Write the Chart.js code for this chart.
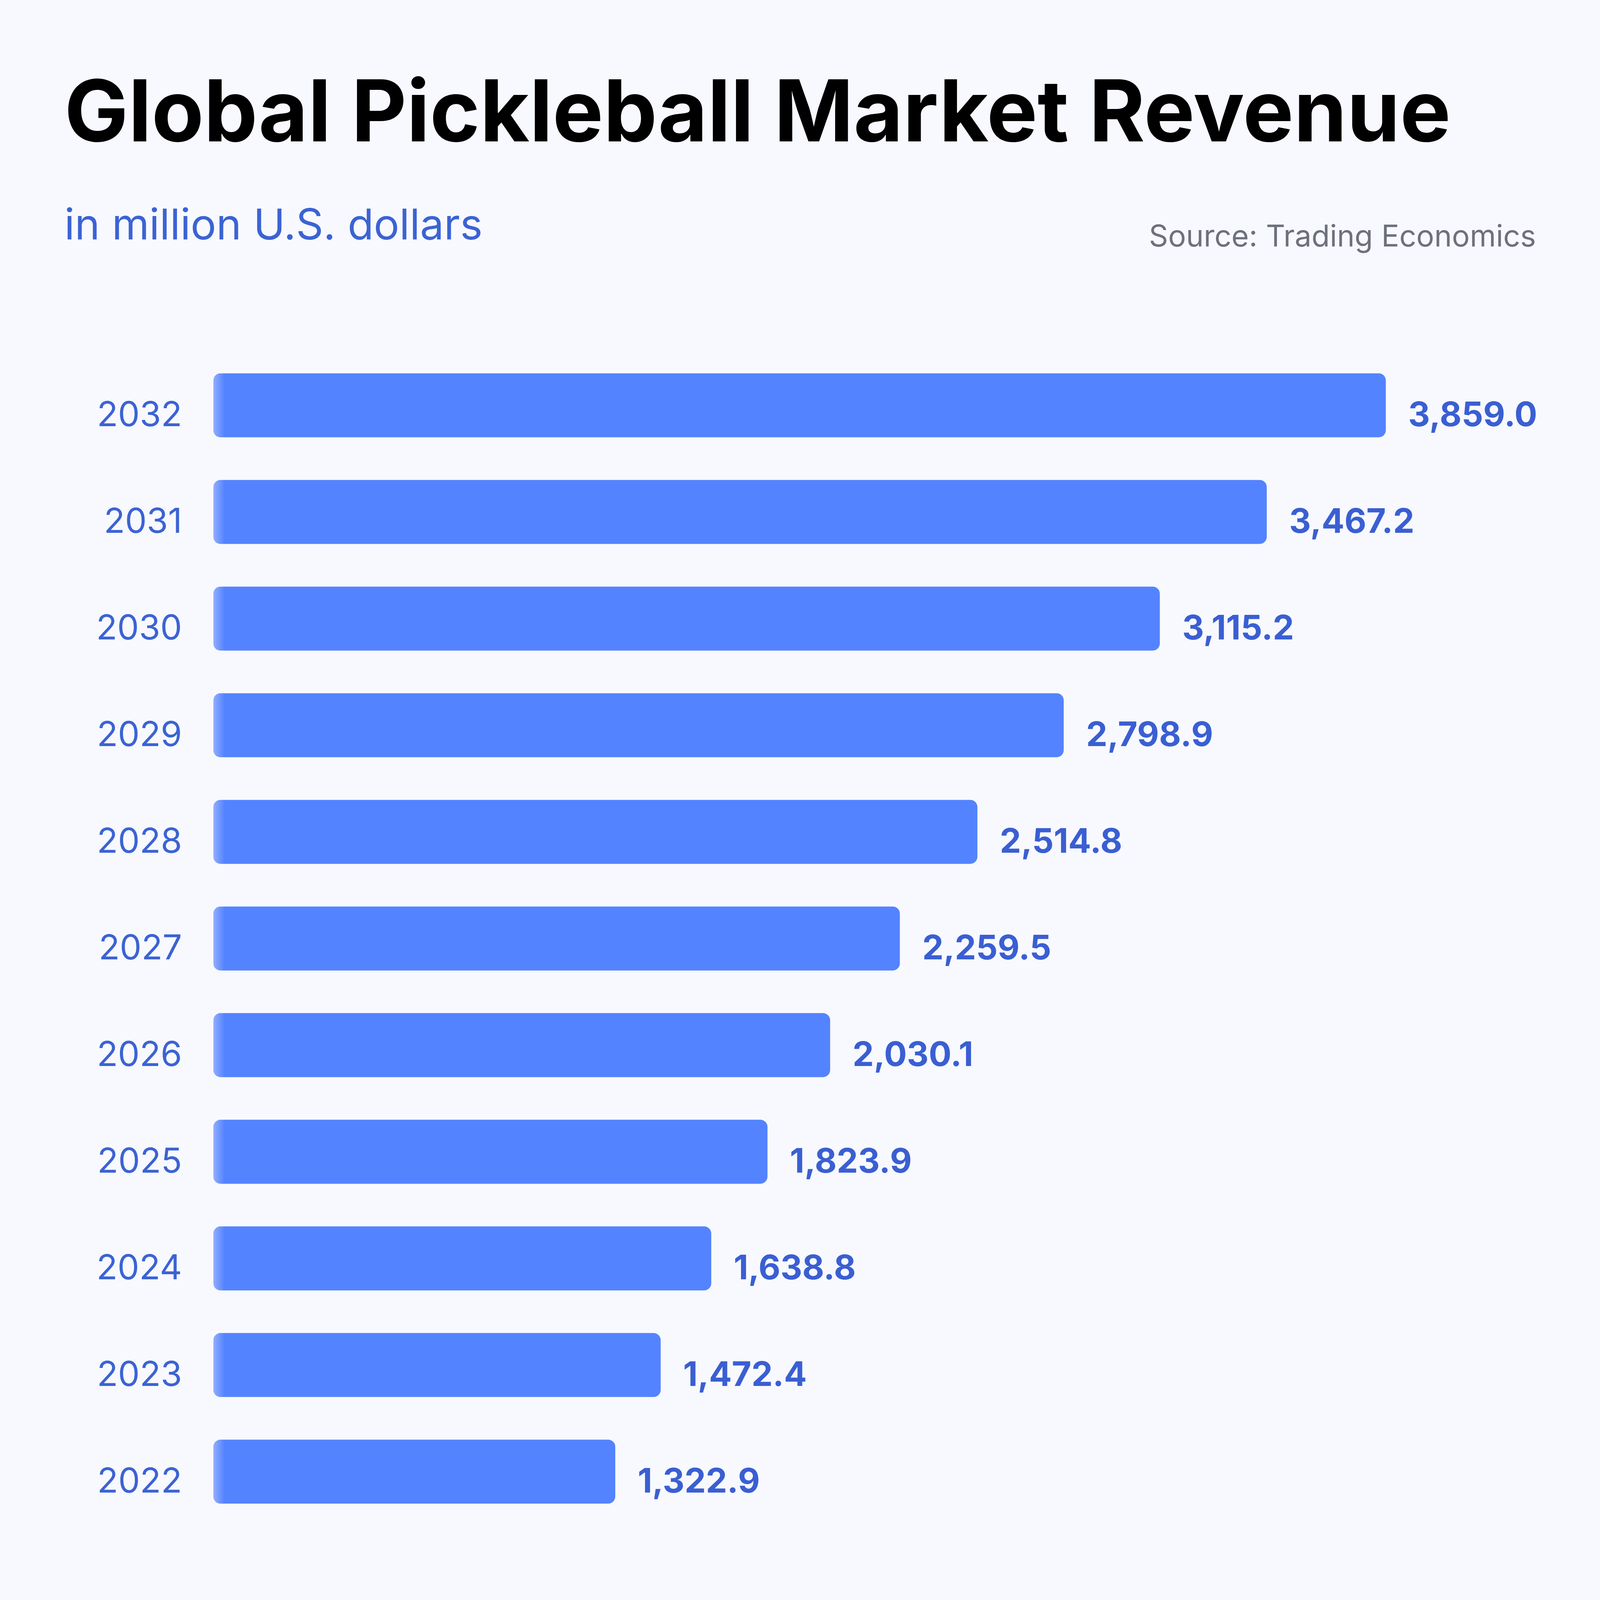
<!DOCTYPE html>
<html>
<head>
<meta charset="utf-8">
<script src="https://cdn.jsdelivr.net/npm/chart.js@4.4.1/dist/chart.umd.min.js"></script>
<style>
  html, body { margin: 0; padding: 0; background: #F8F9FE; overflow: hidden; }
  #wrap { position: relative; background: #F8F9FE; overflow: hidden; }
  .txt { position: absolute; white-space: nowrap; font-family: Inter, "Noto Sans", sans-serif; line-height: 1; }
  #title { font-weight: 700; color: #000; }
  #subtitle { font-weight: 400; color: #3B63D3; }
  #source { font-weight: 400; color: #6E717C; }
  canvas { position: absolute; left: 0; top: 0; }
</style>
</head>
<body>
<div id="wrap">
  <div id="title" class="txt">Global Pickleball Market Revenue</div>
  <div id="subtitle" class="txt">in million U.S. dollars</div>
  <div id="source" class="txt">Source: Trading Economics</div>
  <canvas id="c"></canvas>
</div>
<script>
const years = ['2022','2023','2024','2025','2026','2027','2028','2029','2030','2031','2032'];
const revenue = [1322.9, 1472.4, 1638.8, 1823.9, 2030.1, 2259.5, 2514.8, 2798.9, 3115.2, 3467.2, 3859.0];

const BAR = '#5483FF';
const LABEL = '#3B63D3';
const VALUE = '#3A5FD2';

// design is in 4500-unit coordinates; scale to the real CSS viewport
const S = (window.innerWidth || 4500) / 4500;
const px = v => v * S;

const wrap = document.getElementById('wrap');
wrap.style.width = px(4500) + 'px';
wrap.style.height = px(4500) + 'px';

function place(id, props) {
  const el = document.getElementById(id);
  for (const k in props) el.style[k] = px(props[k]) + 'px';
}
place('title', { left: 181, top: 191, fontSize: 240 });
place('subtitle', { left: 181, top: 570, fontSize: 120 });
place('source', { right: 180, top: 621, fontSize: 84 });

const canvas = document.getElementById('c');
canvas.width = Math.round(px(4500));
canvas.height = Math.round(px(4500));
canvas.style.width = px(4500) + 'px';
canvas.style.height = px(4500) + 'px';

function barFill(ctx) {
  const chart = ctx.chart;
  const area = chart.chartArea;
  if (!area) return BAR;
  const g = chart.ctx.createLinearGradient(area.left, 0, area.right, 0);
  const w = area.right - area.left;
  g.addColorStop(0, '#93AEFF');
  g.addColorStop(px(32) / w, BAR);
  g.addColorStop(1, BAR);
  return g;
}

const valueLabels = {
  id: 'valueLabels',
  afterDatasetsDraw(chart) {
    const c = chart.ctx;
    const meta = chart.getDatasetMeta(0);
    c.save();
    c.font = '700 ' + px(95) + 'px Inter, "Noto Sans", sans-serif';
    c.fillStyle = VALUE;
    c.textAlign = 'left';
    c.textBaseline = 'middle';
    meta.data.forEach((bar, i) => {
      const v = chart.data.datasets[0].data[i];
      const s = v.toLocaleString('en-US', { minimumFractionDigits: 1, maximumFractionDigits: 1 });
      c.fillText(s, bar.x + px(63), bar.y + px(30));
    });
    c.restore();
  }
};

new Chart(canvas, {
  type: 'bar',
  data: {
    labels: years,
    datasets: [{
      data: revenue,
      backgroundColor: barFill,
      borderRadius: px(20),
      borderSkipped: false,
      barPercentage: 0.6,
      categoryPercentage: 1.0
    }]
  },
  options: {
    indexAxis: 'y',
    responsive: false,
    animation: false,
    layout: { padding: { left: 0, right: px(311), top: px(990), bottom: px(211) } },
    plugins: { legend: { display: false }, tooltip: { enabled: false }, title: { display: false } },
    scales: {
      x: { display: false, min: 0, max: 4200 },
      y: {
        reverse: true,
        grid: { display: false, drawTicks: false },
        border: { display: false },
        afterFit(scale) { scale.width = px(600); },
        ticks: {
          padding: px(88),
          labelOffset: px(30),
          color: LABEL,
          font: { family: 'Inter, "Noto Sans", sans-serif', size: px(97), weight: '400' }
        }
      }
    }
  },
  plugins: [valueLabels]
});
</script>
</body>
</html>
